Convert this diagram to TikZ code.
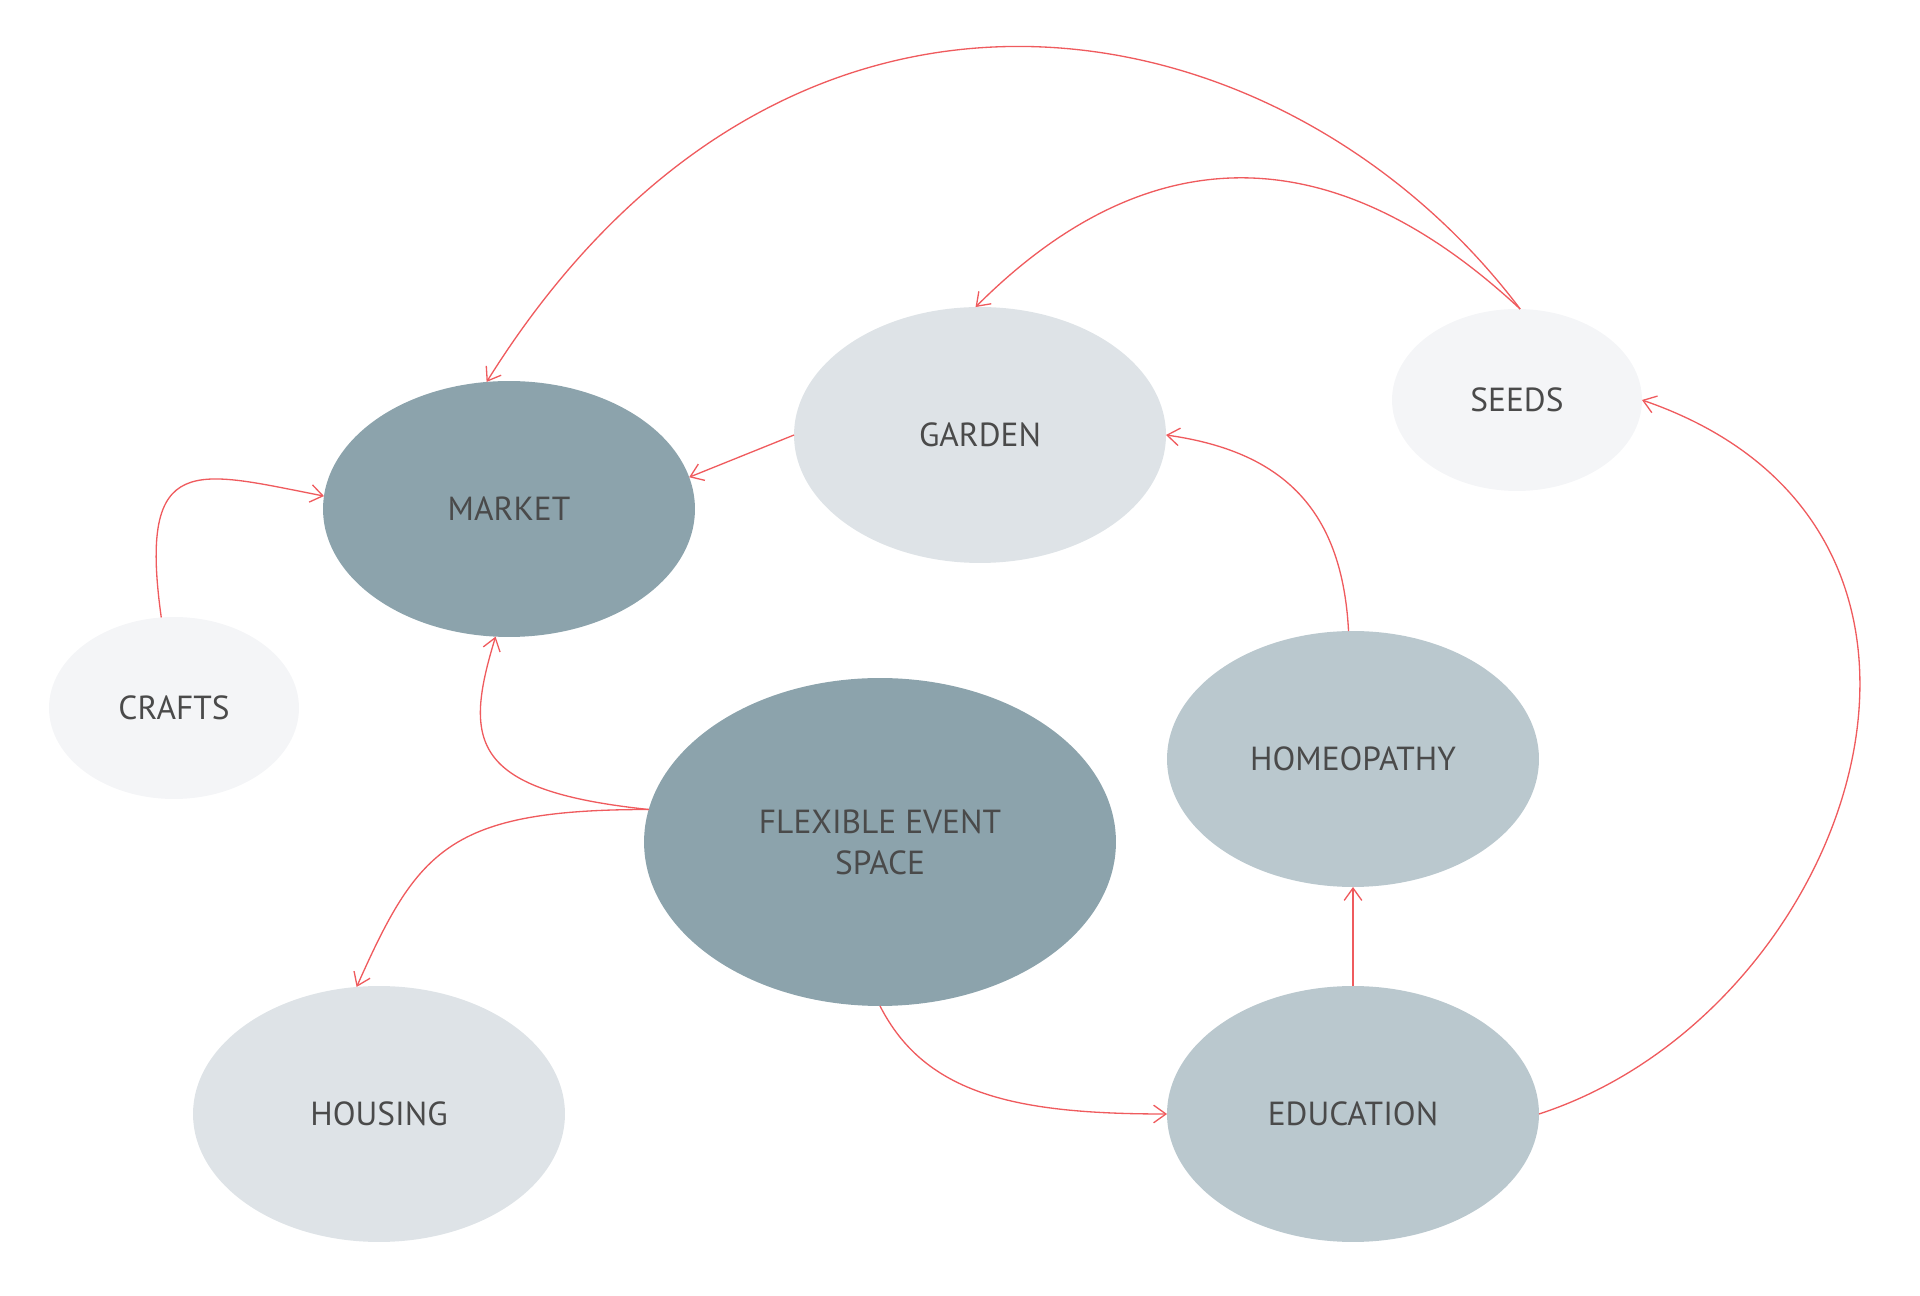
\documentclass[tikz,border=0pt]{standalone}
\usepackage{fontspec}
\setmainfont{PT Sans}
\usetikzlibrary{shapes.geometric,arrows.meta}

\definecolor{slate}{HTML}{8CA3AC}
\definecolor{mist}{HTML}{BAC8CE}
\definecolor{fog}{HTML}{DEE3E7}
\definecolor{chalk}{HTML}{F4F5F7}
\definecolor{link}{HTML}{EF5B5E}
\definecolor{ink}{HTML}{4A4A4A}

\begin{document}
\begin{tikzpicture}[x=0.02cm,y=0.02cm,
    bubble/.style={ellipse, draw=none, inner sep=0pt, outer sep=0pt, text=ink,
      font=\fontsize{19}{23.5}\selectfont, align=center},
    big/.style={bubble, minimum width=7.44cm, minimum height=5.12cm},
    small/.style={bubble, minimum width=5cm, minimum height=3.64cm},
    flow/.style={draw=link, line width=0.75pt, -{Straight Barb[length=7pt,width=10pt]}}]
  \useasboundingbox (0,0) rectangle (1920,1295);
  % ellipses
  \node[big, fill=slate] (market) at (509,786) {MARKET};
  \node[big, fill=fog] (garden) at (980,860) {GARDEN};
  \node[small, fill=chalk] (seeds) at (1517,895) {SEEDS};
  \node[small, fill=chalk] (crafts) at (174,587) {CRAFTS};
  \node[bubble, fill=slate, minimum width=9.44cm, minimum height=6.56cm] (flex) at (880,453) {FLEXIBLE EVENT\\SPACE};
  \node[big, fill=mist] (homeo) at (1353,536) {HOMEOPATHY};
  \node[big, fill=fog] (housing) at (379,181) {HOUSING};
  \node[big, fill=mist] (edu) at (1353,181) {EDUCATION};
  % seeds arcs over the top
  \draw[flow] (seeds.88) .. controls +(127:388) and +(58:574) .. (market.100);
  \draw[flow] (seeds.88) .. controls +(137:246) and +(45:253) .. (garden.92);
  \draw[flow] (garden.west) -- (market.10);
  \draw[flow] (crafts.98) .. controls +(98:170) and +(169:130) .. (market.176);
  % out of the event space
  \draw[flow] (flex.172) .. controls +(174:180) and +(253:110) .. (market.264);
  \draw[flow] (flex.172) .. controls +(180:200) and +(66:150) .. (housing.100);
  \draw[flow] (flex.south) .. controls +(-63:100) and +(180:150) .. (edu.west);
  % right hand side
  \draw[flow] (edu) -- (homeo);
  \draw[flow] (homeo.92) .. controls +(93:120) and +(-8:120) .. (garden.east);
  \draw[flow] (edu.east) .. controls +(18:330) and +(-19:400) .. (seeds.east);
\end{tikzpicture}
\end{document}
